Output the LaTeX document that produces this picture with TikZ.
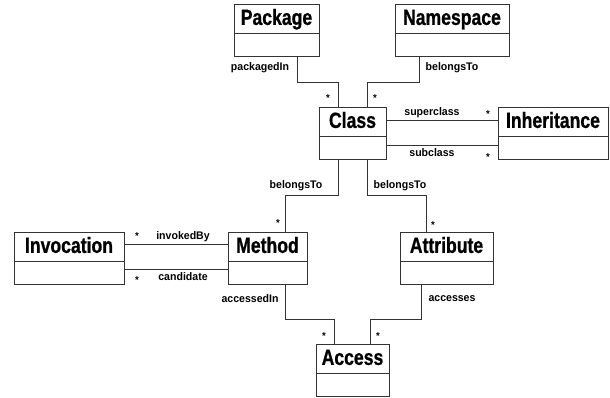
\documentclass[tikz,border=0pt]{standalone}
\usepackage{fontspec}
\newfontfamily\titlefont{Liberation Sans}[FakeStretch=0.8,FakeBold=0.8]
\newfontfamily\labelfont{Liberation Sans}[FakeStretch=0.96]
\usetikzlibrary{shapes.multipart}

\tikzset{
  umlclass/.style={draw=black!80, line width=0.9pt, rectangle split, rectangle split parts=2,
    anchor=north, inner xsep=2pt, inner ysep=2pt,
    font=\titlefont\bfseries\fontsize{22}{22}\selectfont},
  assoc/.style={draw=black!80, line width=0.8pt},
  role/.style={font=\labelfont\bfseries\fontsize{11}{11}\selectfont, inner sep=0pt},
  mult/.style={font=\labelfont\bfseries\fontsize{10}{10}\selectfont, inner sep=0pt, anchor=north},
}
\newcommand{\headstrut}{\rule[-6pt]{0pt}{24pt}}
\newcommand{\bodystrut}{\rule{0pt}{18pt}}

\begin{document}
\begin{tikzpicture}[x=1pt,y=1pt,yscale=-1]

    \useasboundingbox (0,0) rectangle (610,398);

    \draw (276.5,4)  node [umlclass, minimum width=85]  (pkg)  {\headstrut Package\nodepart{two}\bodystrut};
    \draw (452,4)    node [umlclass, minimum width=114] (ns)   {\headstrut Namespace\nodepart{two}\bodystrut};
    \draw (352.5,107) node [umlclass, minimum width=67] (cls)  {\headstrut Class\nodepart{two}\bodystrut};
    \draw (553,107)  node [umlclass, minimum width=110] (inh)  {\headstrut Inheritance\nodepart{two}\bodystrut};
    \draw (69,232)   node [umlclass, minimum width=110] (inv)  {\headstrut Invocation\nodepart{two}\bodystrut};
    \draw (267.5,232) node [umlclass, minimum width=79] (meth) {\headstrut Method\nodepart{two}\bodystrut};
    \draw (446.5,232) node [umlclass, minimum width=93] (attr) {\headstrut Attribute\nodepart{two}\bodystrut};
    \draw (352.5,344) node [umlclass, minimum width=73] (acc)  {\headstrut Access\nodepart{two}\bodystrut};

    \draw [assoc] ([xshift=20.5pt]pkg.south) -- ++(0,26) -| ([xshift=-14.5pt]cls.north);
    \draw [assoc] ([xshift=-33pt]ns.south) -- ++(0,26) -| ([xshift=14.5pt]cls.north);
    \draw [assoc] (cls.east |- 0,120) -- (inh.west |- 0,120);
    \draw [assoc] (cls.east |- 0,145) -- (inh.west |- 0,145);
    \draw [assoc] ([xshift=-14.5pt]cls.south) -- ++(0,36) -| ([xshift=17.5pt]meth.north);
    \draw [assoc] ([xshift=14.5pt]cls.south) -- ++(0,36) -| ([xshift=-20.5pt]attr.north);
    \draw [assoc] (inv.east |- 0,244) -- (meth.west |- 0,244);
    \draw [assoc] (inv.east |- 0,269) -- (meth.west |- 0,269);
    \draw [assoc] ([xshift=17.5pt]meth.south) -- ++(0,35) -| ([xshift=-18.5pt]acc.north);
    \draw [assoc] ([xshift=-25.5pt]attr.south) -- ++(0,35) -| ([xshift=17.5pt]acc.north);

    \draw (260,68)  node [role] (lpkg)  {packagedIn};
    \draw (452,68)  node [role] (lns)   {belongsTo};
    \draw (432,113) node [role] (lsup)  {superclass};
    \draw (432,153) node [role] (lsub)  {subclass};
    \draw (296,186) node [role] (lmeth) {belongsTo};
    \draw (400,186) node [role] (lattr) {belongsTo};
    \draw (183,237) node [role] (linv)  {invokedBy};
    \draw (183,277) node [role] (lcand) {candidate};
    \draw (250,299) node [role] (lacc)  {accessedIn};
    \draw (452,299) node [role] (lacs)  {accesses};

    \draw (328,94.5)  node [mult] (m1)  {*};
    \draw (375,94.5)  node [mult] (m2)  {*};
    \draw (488,110.5) node [mult] (m3)  {*};
    \draw (488,153.5) node [mult] (m4)  {*};
    \draw (278,219.5) node [mult] (m5)  {*};
    \draw (433,221.5) node [mult] (m6)  {*};
    \draw (137,232.5) node [mult] (m7)  {*};
    \draw (137,276.5) node [mult] (m8)  {*};
    \draw (324,332.5) node [mult] (m9)  {*};
    \draw (378,332.5) node [mult] (m10) {*};

\end{tikzpicture}
\end{document}
